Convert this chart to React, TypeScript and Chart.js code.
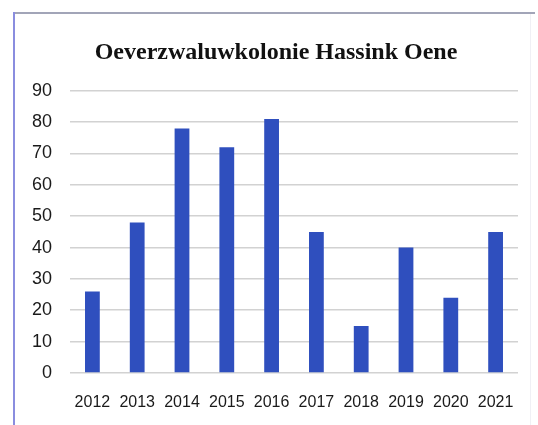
import React, { useEffect, useRef } from "react";
import { Chart, registerables } from "chart.js";

Chart.register(...registerables);

const years = ["2012", "2013", "2014", "2015", "2016", "2017", "2018", "2019", "2020", "2021"];
const colonyCounts = [26, 48, 78, 72, 81, 45, 15, 40, 24, 45];
const yTickValues = [0, 10, 20, 30, 40, 50, 60, 70, 80, 90];
const chartTitle = "Oeverzwaluwkolonie Hassink Oene";

export default function App() {
  const canvasRef = useRef<HTMLCanvasElement | null>(null);

  useEffect(() => {
    document.body.style.margin = "0";
    const canvas = canvasRef.current;
    if (!canvas) return;
    const chart = new Chart(canvas, {
      type: "bar",
      data: {
        labels: years,
        datasets: [
          {
            label: chartTitle,
            data: colonyCounts,
            backgroundColor: "#2f4fbe",
            borderWidth: 0,
            barPercentage: 0.33,
            categoryPercentage: 1,
            yAxisID: "y",
          },
        ],
      },
      options: {
        animation: false,
        responsive: false,
        maintainAspectRatio: false,
        layout: { padding: { left: 14, right: 0, top: 0, bottom: 0 } },
        plugins: {
          legend: { display: false },
          tooltip: { enabled: false },
          title: {
            display: true,
            text: chartTitle,
            color: "#111111",
            font: { family: "'Liberation Serif', 'Times New Roman', serif", size: 24, weight: "bold" },
            padding: { top: 38, bottom: 24 },
            align: "center",
          },
        },
        scales: {
          x: {
            grid: { display: false, drawTicks: false },
            border: { display: false },
            ticks: {
              color: "#1a1a1a",
              font: { family: "'Liberation Sans', Arial, sans-serif", size: 16 },
              padding: 20,
              maxRotation: 0,
              autoSkip: false,
            },
            afterFit: (scale: any) => {
              scale.height = 52;
            },
          },
          y: {
            min: 0,
            max: 90,
            afterBuildTicks: (scale: any) => {
              scale.ticks = yTickValues.map((v) => ({ value: v }));
            },
            grid: { color: "#d2d2d2", lineWidth: 1.6, drawTicks: false },
            border: { display: false },
            ticks: {
              color: "#1a1a1a",
              font: { family: "'Liberation Sans', Arial, sans-serif", size: 18 },
              padding: 18,
            },
            afterFit: (scale: any) => {
              scale.width = 56;
            },
          },
          ySpacer: {
            position: "right",
            display: true,
            grid: { display: false, drawTicks: false },
            border: { display: false },
            ticks: { display: false },
            afterFit: (scale: any) => {
              scale.width = 20;
            },
          },
        },
      },
    });
    return () => chart.destroy();
  }, []);

  return (
    <div style={{ position: "fixed", left: 0, top: 0, width: 538, height: 425, background: "#ffffff", overflow: "hidden" }}>
      <div style={{ position: "absolute", left: 13, top: 12, width: 522, height: 2, background: "#a2a5b8" }} />
      <div style={{ position: "absolute", left: 13, top: 12, width: 2, height: 413, background: "#8a8ddf" }} />
      <div style={{ position: "absolute", left: 530, top: 14, width: 1, height: 411, background: "#f0f0f5" }} />
      <canvas ref={canvasRef} width={538} height={425} style={{ position: "absolute", left: 0, top: 0, width: 538, height: 425 }} />
    </div>
  );
}
